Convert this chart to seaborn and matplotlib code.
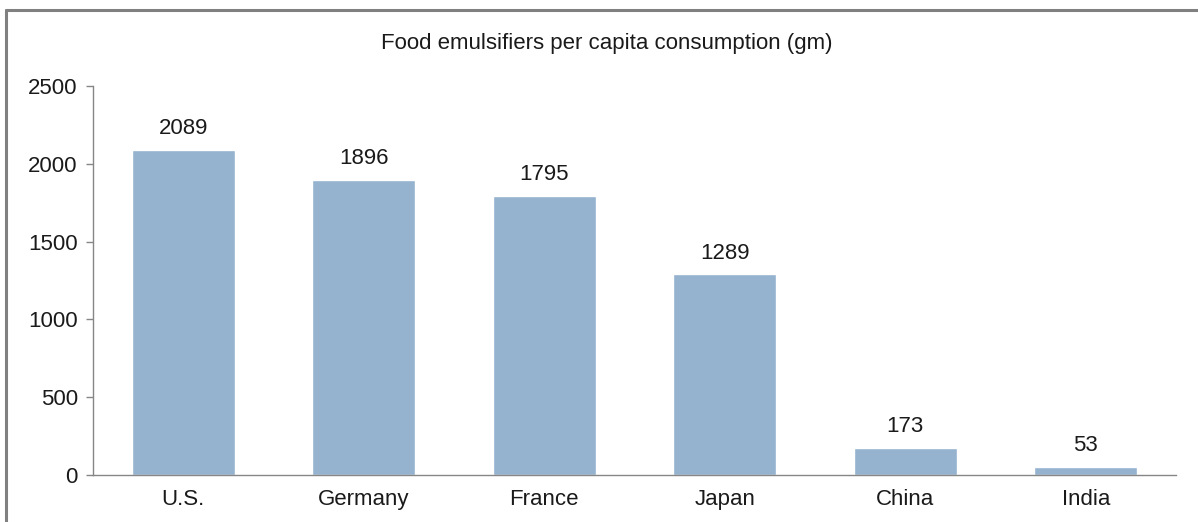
import matplotlib.pyplot as plt
import seaborn as sns
import pandas as pd
from matplotlib.lines import Line2D

countries = ["U.S.", "Germany", "France", "Japan", "China", "India"]
consumption = [2089, 1896, 1795, 1289, 173, 53]
y_ticks = [0, 500, 1000, 1500, 2000, 2500]

df = pd.DataFrame({"Country": countries, "Consumption": consumption})

sns.set_theme(style="white")
plt.rcParams["font.family"] = ["Liberation Sans", "DejaVu Sans"]

fig = plt.figure(figsize=(11.98, 5.22), dpi=100)
ax = fig.add_axes([93 / 1198, 1 - 475 / 522, (1176 - 93) / 1198, (475 - 86) / 522])

sns.barplot(data=df, x="Country", y="Consumption", color="#95b3cf",
            width=0.57, saturation=1, ax=ax)

# value labels above bars
for i, v in enumerate(consumption):
    ax.text(i, v + 70, str(v), ha="center", va="bottom", fontsize=16, color="#1a1a1a")

ax.set_xlim(-0.5, 5.5)
ax.set_ylim(0, 2500)
ax.set_yticks(y_ticks)
ax.set_xlabel("")
ax.set_ylabel("")
ax.tick_params(axis="y", length=5, width=1, color="#868686", labelsize=16,
               pad=6, labelcolor="#1a1a1a", left=True)
ax.tick_params(axis="x", length=0, labelsize=16, pad=10, labelcolor="#1a1a1a")
for side in ["top", "right"]:
    ax.spines[side].set_visible(False)
for side in ["left", "bottom"]:
    ax.spines[side].set_color("#868686")
    ax.spines[side].set_linewidth(1)

fig.text(607 / 1198, 1 - 44 / 522, "Food emulsifiers per capita consumption (gm)",
         ha="center", va="center", fontsize=16, color="#1a1a1a")

# outer frame (top and left edges only visible in the crop)
fig.add_artist(Line2D([6 / 1198, 6 / 1198], [0, 1 - 10 / 522], transform=fig.transFigure,
                      color="#808080", linewidth=2.2))
fig.add_artist(Line2D([6 / 1198, 1], [1 - 10 / 522, 1 - 10 / 522], transform=fig.transFigure,
                      color="#808080", linewidth=2.2))

fig.savefig("out.png", dpi=100)
plt.close(fig)
